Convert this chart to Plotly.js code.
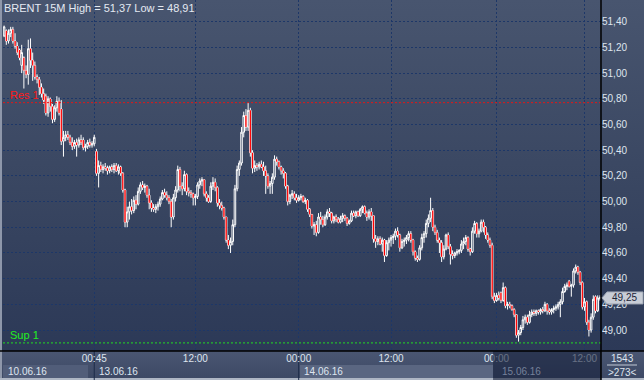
<!DOCTYPE html>
<html>
<head>
<meta charset="utf-8">
<script src="https://cdn.plot.ly/plotly-3.0.1.min.js"></script>
<style>
  html, body { margin:0; padding:0; background:#2c3957; }
  #wrap { position:relative; width:644px; height:380px; overflow:hidden; }
  #bgTop { position:absolute; left:0; top:0; width:644px; height:351px;
           background:linear-gradient(to bottom, #48556f 0%, #3a4762 50%, #2c3957 100%); }
  #bgBot { position:absolute; left:0; top:351px; width:644px; height:29px;
           background:linear-gradient(to bottom, #4a5672 0%, #3c4864 100%); }
  #edgeL { position:absolute; left:0; top:0; width:2px; height:380px; background:#8e97aa; }
  #edgeB { position:absolute; left:0; top:378px; width:644px; height:2px; background:#aeb6c4; }
  #chart { position:absolute; left:0; top:0; width:644px; height:380px; }
</style>
</head>
<body>
<div id="wrap">
  <div id="bgTop"></div>
  <div id="bgBot"></div>
  <div id="edgeL"></div>
  <div id="edgeB"></div>
  <div id="chart"></div>
</div>
<script>
// ---- data: BRENT 15-minute candles ----
const opens = [
51.29,51.33,51.25,51.31,51.34,51.25,51.21,51.18,51.06,51.12,
51.02,50.99,51.19,51.10,51.06,50.97,50.95,50.89,50.84,50.82,
50.69,50.80,50.74,50.64,50.73,50.78,50.72,50.47,50.50,50.52,
50.50,50.46,50.43,50.46,50.44,50.48,50.48,50.42,50.43,50.46,
50.44,50.45,50.39,50.22,50.28,50.25,50.27,50.26,50.24,50.27,
50.25,50.28,50.24,50.27,50.22,50.09,49.84,49.92,49.96,49.93,
50.01,49.98,50.08,50.13,50.11,50.12,50.05,49.99,49.95,49.94,
49.96,49.98,50.02,50.07,50.05,50.03,50.00,49.88,50.03,50.09,
50.25,50.12,50.10,50.21,50.08,50.07,50.06,50.03,50.04,50.13,
50.16,50.17,50.06,50.03,50.00,50.12,50.15,50.11,49.99,49.97,
49.95,49.88,49.70,49.66,49.69,49.82,50.10,50.25,50.30,50.54,
50.67,50.58,50.71,50.38,50.26,50.28,50.27,50.29,50.27,50.24,
50.20,50.12,50.14,50.19,50.33,50.31,50.27,50.24,50.22,50.12,
50.00,50.05,50.06,50.03,50.01,50.03,50.04,50.00,50.01,49.94,
49.90,49.81,49.82,49.76,49.88,49.86,49.82,49.88,49.92,49.91,
49.85,49.88,49.86,49.84,49.87,49.89,49.87,49.83,49.85,49.91,
49.89,49.92,49.89,49.94,49.96,49.91,49.88,49.92,49.89,49.71,
49.69,49.71,49.67,49.70,49.58,49.68,49.70,49.72,49.73,49.77,
49.74,49.64,49.69,49.70,49.72,49.75,49.70,49.61,49.56,49.55,
49.64,49.72,49.75,49.83,49.87,49.93,49.80,49.76,49.70,49.68,
49.57,49.63,49.74,49.65,49.59,49.58,49.60,49.61,49.62,49.67,
49.69,49.72,49.63,49.61,49.77,49.83,49.75,49.77,49.84,49.80,
49.74,49.70,49.66,49.26,49.23,49.27,49.29,49.23,49.33,49.19,
49.20,49.19,49.16,49.12,48.96,48.98,49.02,49.08,49.10,49.06,
49.12,49.14,49.13,49.15,49.14,49.16,49.15,49.20,49.15,49.14,
49.16,49.17,49.18,49.20,49.22,49.30,49.34,49.38,49.34,49.35,
49.46,49.49,49.45,49.37,49.18,49.22,49.06,49.00,49.10,49.26,
49.15,49.25];
const highs = [
51.37,51.34,51.34,51.36,51.36,51.31,51.24,51.19,51.22,51.13,
51.06,51.26,51.27,51.16,51.09,50.99,50.97,50.92,50.88,50.84,
50.82,50.81,50.76,50.75,50.82,50.81,50.79,50.55,50.55,50.55,
50.52,50.50,50.48,50.49,50.50,50.52,50.50,50.45,50.48,50.49,
50.47,50.52,50.41,50.32,50.31,50.29,50.30,50.28,50.28,50.29,
50.30,50.30,50.29,50.28,50.23,50.10,49.96,50.00,50.02,50.04,
50.05,50.11,50.15,50.16,50.14,50.13,50.10,50.01,49.98,49.98,
50.00,50.04,50.09,50.10,50.08,50.05,50.02,50.06,50.12,50.28,
50.27,50.15,50.24,50.22,50.11,50.09,50.07,50.06,50.15,50.18,
50.19,50.17,50.08,50.05,50.15,50.19,50.18,50.12,50.02,50.00,
49.96,49.88,49.74,49.72,49.86,50.13,50.28,50.32,50.58,50.70,
50.72,50.77,50.73,50.40,50.32,50.30,50.31,50.32,50.31,50.28,
50.22,50.16,50.22,50.36,50.35,50.32,50.28,50.26,50.23,50.13,
50.06,50.09,50.08,50.06,50.05,50.06,50.05,50.03,50.02,49.95,
49.90,49.84,49.85,49.91,49.92,49.89,49.90,49.94,49.95,49.92,
49.89,49.90,49.88,49.89,49.91,49.90,49.88,49.86,49.93,49.93,
49.93,49.93,49.95,49.97,49.97,49.93,49.94,49.95,49.89,49.74,
49.73,49.73,49.72,49.71,49.70,49.72,49.74,49.75,49.79,49.80,
49.75,49.71,49.72,49.74,49.77,49.77,49.71,49.62,49.58,49.66,
49.75,49.77,49.86,49.90,50.03,49.95,49.82,49.78,49.72,49.70,
49.66,49.75,49.76,49.67,49.62,49.61,49.63,49.63,49.70,49.72,
49.74,49.73,49.64,49.80,49.85,49.84,49.79,49.86,49.86,49.81,
49.76,49.72,49.68,49.29,49.29,49.30,49.30,49.37,49.34,49.22,
49.22,49.20,49.17,49.12,49.00,49.04,49.11,49.12,49.12,49.15,
49.16,49.16,49.16,49.16,49.17,49.18,49.22,49.21,49.17,49.17,
49.19,49.20,49.22,49.24,49.33,49.36,49.37,49.39,49.36,49.48,
49.51,49.50,49.46,49.38,49.25,49.23,49.08,49.13,49.27,49.27,
49.27,49.27];
const lows = [
51.28,51.22,51.23,51.28,51.23,51.19,51.14,51.10,51.00,50.88,
50.96,50.91,51.04,50.94,50.95,50.92,50.83,50.81,50.76,50.67,
50.66,50.70,50.61,50.62,50.70,50.67,50.44,50.35,50.47,50.48,
50.44,50.40,50.41,50.35,50.42,50.44,50.40,50.39,50.41,50.42,
50.42,50.43,50.20,50.11,50.23,50.22,50.24,50.21,50.22,50.23,
50.22,50.23,50.21,50.20,50.07,49.80,49.80,49.86,49.90,49.91,
49.94,49.97,50.06,50.09,50.07,50.03,49.94,49.92,49.92,49.91,
49.93,49.96,50.01,50.03,50.01,49.98,49.80,49.86,50.00,50.07,
50.08,50.05,50.08,50.05,50.04,50.03,49.97,49.97,50.02,50.10,
50.12,50.04,50.00,49.99,49.99,50.09,50.08,49.96,49.94,49.93,
49.86,49.68,49.63,49.60,49.66,49.80,50.08,50.20,50.28,50.50,
50.55,50.55,50.35,50.22,50.23,50.24,50.25,50.26,50.20,50.06,
50.10,50.06,50.06,50.17,50.28,50.25,50.21,50.18,50.10,49.97,
49.98,50.02,50.01,49.99,50.00,50.01,49.99,49.98,49.92,49.88,
49.79,49.74,49.73,49.75,49.82,49.80,49.81,49.86,49.88,49.83,
49.83,49.84,49.83,49.83,49.84,49.85,49.81,49.82,49.84,49.88,
49.87,49.88,49.88,49.91,49.90,49.85,49.86,49.85,49.68,49.64,
49.66,49.66,49.61,49.53,49.57,49.62,49.65,49.67,49.70,49.72,
49.61,49.63,49.65,49.67,49.69,49.68,49.58,49.54,49.53,49.54,
49.62,49.68,49.72,49.80,49.84,49.77,49.74,49.68,49.60,49.53,
49.55,49.62,49.63,49.51,49.55,49.56,49.58,49.59,49.60,49.63,
49.66,49.61,49.58,49.60,49.75,49.72,49.72,49.76,49.76,49.71,
49.68,49.64,49.24,49.21,49.22,49.23,49.21,49.22,49.17,49.16,
49.17,49.15,49.10,48.94,48.91,48.96,49.00,49.05,49.04,49.05,
49.10,49.11,49.11,49.12,49.12,49.13,49.14,49.12,49.12,49.12,
49.13,49.15,49.16,49.10,49.20,49.29,49.31,49.33,49.26,49.33,
49.44,49.43,49.35,49.16,49.15,49.04,48.95,48.98,49.08,49.13,
49.14,49.23];
const closes = [
51.36,51.25,51.31,51.34,51.25,51.21,51.16,51.12,51.16,51.02,
50.99,51.19,51.10,51.06,50.97,50.95,50.89,50.84,50.79,50.69,
50.80,50.74,50.64,50.73,50.78,50.69,50.47,50.50,50.52,50.50,
50.46,50.43,50.46,50.44,50.48,50.46,50.42,50.43,50.46,50.44,
50.45,50.50,50.22,50.28,50.25,50.27,50.26,50.24,50.27,50.25,
50.28,50.24,50.27,50.22,50.09,49.84,49.92,49.96,49.93,50.01,
49.98,50.08,50.13,50.11,50.12,50.05,49.99,49.95,49.94,49.96,
49.98,50.02,50.07,50.05,50.03,50.00,49.88,50.03,50.09,50.25,
50.12,50.10,50.21,50.08,50.07,50.06,50.03,50.04,50.13,50.16,
50.17,50.06,50.03,50.00,50.12,50.15,50.11,49.99,49.97,49.95,
49.88,49.70,49.66,49.69,49.82,50.10,50.25,50.30,50.54,50.67,
50.58,50.71,50.38,50.26,50.28,50.27,50.29,50.27,50.24,50.20,
50.12,50.14,50.19,50.33,50.31,50.27,50.24,50.22,50.12,50.00,
50.05,50.06,50.03,50.01,50.03,50.04,50.00,50.01,49.94,49.90,
49.81,49.82,49.76,49.88,49.86,49.82,49.88,49.92,49.91,49.85,
49.88,49.86,49.84,49.87,49.89,49.87,49.83,49.85,49.91,49.89,
49.92,49.89,49.94,49.96,49.91,49.88,49.92,49.89,49.71,49.69,
49.71,49.67,49.70,49.58,49.68,49.70,49.72,49.73,49.77,49.74,
49.64,49.69,49.70,49.72,49.75,49.70,49.61,49.56,49.55,49.64,
49.72,49.75,49.83,49.87,49.93,49.80,49.76,49.70,49.68,49.57,
49.63,49.74,49.65,49.59,49.58,49.60,49.61,49.62,49.67,49.69,
49.72,49.63,49.61,49.77,49.83,49.75,49.77,49.84,49.80,49.74,
49.70,49.66,49.26,49.23,49.27,49.25,49.23,49.33,49.19,49.20,
49.19,49.16,49.12,48.96,48.98,49.02,49.08,49.10,49.06,49.12,
49.14,49.13,49.15,49.14,49.16,49.15,49.20,49.15,49.14,49.16,
49.17,49.18,49.20,49.22,49.30,49.34,49.35,49.34,49.35,49.46,
49.49,49.45,49.37,49.18,49.22,49.06,49.00,49.10,49.24,49.15,
49.25,49.25];

// time ticks: candle index of each labelled time, and its label
const timeTickIdx   = [41, 87, 134, 176, 224, 264];
const timeTickText  = ["00:45", "12:00", "00:00", "12:00", "00:00", "12:00"];
// day labels: candle index where each day's label starts
const dayIdx        = [-0.5, 41, 134, 224];
const dayText       = ["10.06.16", "13.06.16", "14.06.16", "15.06.16"];
// price ticks
const priceTicks    = [49.00, 49.20, 49.40, 49.60, 49.80, 50.00, 50.20, 50.40, 50.60, 50.80, 51.00, 51.20, 51.40];
const priceTickText = ["49,00","49,20","49,40","49,60","49,80","50,00","50,20","50,40","50,60","50,80","51,00","51,20","51,40"];
// levels
const resLevel = 50.77, supLevel = 48.90;
const lastPrice = 49.25, lastPriceText = "49,25";
const barCount = 1543, visibleBars = 273;
const titleText = "BRENT 15M High = 51,37 Low = 48,91";

// ---- chart ----
const idx = opens.map((_, i) => i);
const N = opens.length;
const W = 644, H = 380, ML = 3, MR = 43, MT = 0, MB = 29;
const PW = W - ML - MR, PH = H - MT - MB;
const px = X => (X - ML) / PW;          // pixel -> paper x
const py = Y => (PH + MT - Y) / PH;     // pixel -> paper y
const FONT = "Liberation Sans, Arial, sans-serif";
const TXT = "#dfe5ef";
const stripBottom = py(380);
const pxPerPrice = PH / (51.569 - 48.837);

const candles = {
  type: "candlestick",
  x: idx, open: opens, high: highs, low: lows, close: closes,
  increasing: { line: { color: "#ffffff", width: 1 }, fillcolor: "rgba(0,0,0,0)" },
  decreasing: { line: { color: "#ffffff", width: 1 }, fillcolor: "#ff0000" },
  whiskerwidth: 0,
  hoverinfo: "skip"
};

// red core of each falling candle body (drawn on top of the white outline)
const redX = [], redY = [];
idx.forEach(i => {
  if (closes[i] < opens[i]) {
    redX.push(i, i, null);
    redY.push(opens[i], closes[i], null);
  }
});
const redCores = {
  type: "scatter", mode: "lines", x: redX, y: redY,
  line: { color: "#ff0000", width: 1.2 }, connectgaps: false, hoverinfo: "skip"
};

const tagH = 6 / pxPerPrice;
const shapes = [
  // date boxes
  { type:"rect", xref:"x", yref:"paper", x0:-0.5, x1:38.2, y0:py(378), y1:py(365),
    fillcolor:"#515d79", line:{ width:0 }, layer:"below" },
  { type:"rect", xref:"x", yref:"paper", x0:134.6, x1:222.4, y0:py(378), y1:py(365),
    fillcolor:"#5a6681", line:{ width:0 }, layer:"below" },
  // day separators in the axis strip
  { type:"line", xref:"x", yref:"paper", x0:41, x1:41, y0:stripBottom, y1:0,
    line:{ color:"#1c2a48", width:1 }, layer:"below" },
  { type:"line", xref:"x", yref:"paper", x0:134, x1:134, y0:stripBottom, y1:0,
    line:{ color:"#1c2a48", width:1 }, layer:"below" },
  // resistance / support
  { type:"line", xref:"paper", yref:"y", x0:0, x1:1, y0:resLevel, y1:resLevel,
    line:{ color:"#e01818", width:1, dash:"2px,2px" } },
  { type:"line", xref:"paper", yref:"y", x0:0, x1:1, y0:supLevel, y1:supLevel,
    line:{ color:"#22dd22", width:1, dash:"2px,2px" } },
  // darker overlay on the last day in the axis strip
  { type:"rect", xref:"x", yref:"paper", x0:222.4, x1:N - 0.5, y0:stripBottom, y1:0,
    fillcolor:"rgba(24,34,60,0.6)", line:{ width:0 }, layer:"above" },
  // black frame lines
  { type:"line", xref:"paper", yref:"paper", x0:1, x1:1, y0:stripBottom, y1:1,
    line:{ color:"#000000", width:1.5 } },
  { type:"line", xref:"paper", yref:"paper", x0:px(0), x1:px(644), y0:0, y1:0,
    line:{ color:"#000000", width:1.5 } },
  // divider in the bar-count box
  { type:"line", xref:"paper", yref:"paper", x0:px(607), x1:px(637), y0:py(365), y1:py(365),
    line:{ color:"#c3cad6", width:1 } },
  // last price tag
  { type:"path", xref:"paper", yref:"y", layer:"above",
    path:`M ${px(602)} ${lastPrice} L ${px(607)} ${lastPrice + tagH} L ${px(643)} ${lastPrice + tagH} L ${px(643)} ${lastPrice - tagH} L ${px(607)} ${lastPrice - tagH} Z`,
    fillcolor:"#c8cdd6", line:{ color:"#9fa7b4", width:1 } }
];

const annotations = [
  { xref:"paper", yref:"y", x:px(8), y:resLevel, xanchor:"left", yanchor:"middle", yshift:8,
    text:"Res 1", showarrow:false, font:{ family:FONT, size:11, color:"#ff1a1a" } },
  { xref:"paper", yref:"y", x:px(8), y:supLevel, xanchor:"left", yanchor:"middle", yshift:8,
    text:"Sup 1", showarrow:false, font:{ family:FONT, size:11, color:"#22ee22" } },
  { xref:"paper", yref:"y", x:px(624), y:lastPrice, xanchor:"center", yanchor:"middle",
    text:lastPriceText, showarrow:false, font:{ family:FONT, size:10, color:"#1b2436" } },
  { xref:"paper", yref:"paper", x:px(622), y:py(358), xanchor:"center", yanchor:"middle",
    text:String(barCount), showarrow:false, font:{ family:FONT, size:10, color:TXT } },
  { xref:"paper", yref:"paper", x:px(622), y:py(372), xanchor:"center", yanchor:"middle",
    text:"&gt;" + visibleBars + "&lt;", showarrow:false, font:{ family:FONT, size:10, color:TXT } }
];
dayText.forEach((t, k) => {
  annotations.push({ xref:"x", yref:"paper", x:dayIdx[k], y:py(371), xanchor:"left", yanchor:"middle",
    xshift: 3, text:t, showarrow:false,
    font:{ family:FONT, size:10, color: k === dayText.length - 1 ? "#75819a" : TXT } });
});

const layout = {
  width: W, height: H,
  margin: { l:ML, r:MR, t:MT, b:MB, pad:0 },
  paper_bgcolor: "rgba(0,0,0,0)",
  plot_bgcolor: "rgba(0,0,0,0)",
  showlegend: false,
  hovermode: false,
  boxgap: 0,
  title: { text: titleText, x: 4 / W, xanchor: "left", y: 1 - 8 / H, yanchor: "middle",
           xref:"container", yref:"container", pad:{ t:0, b:0, l:0, r:0 },
           font: { family: FONT, size: 11, color: "#e4e9f2" } },
  xaxis: {
    range: [-0.5, N - 0.5],
    tickmode: "array", tickvals: timeTickIdx, ticktext: timeTickText,
    showgrid: true, gridcolor: "#1d3768", gridwidth: 1, griddash: "2px,2px",
    zeroline: false, showline: false, ticks: "",
    tickfont: { family: FONT, size: 10, color: TXT },
    rangeslider: { visible: false }, fixedrange: true
  },
  yaxis: {
    side: "right",
    range: [48.837, 51.569],
    tickmode: "array", tickvals: priceTicks, ticktext: priceTickText,
    showgrid: true, gridcolor: "#1d3768", gridwidth: 1, griddash: "2px,2px",
    zeroline: false, showline: false, ticks: "",
    tickfont: { family: FONT, size: 10, color: TXT },
    fixedrange: true
  },
  shapes: shapes,
  annotations: annotations
};

Plotly.newPlot("chart", [candles, redCores], layout, { staticPlot: true, displayModeBar: false });
</script>
</body>
</html>
